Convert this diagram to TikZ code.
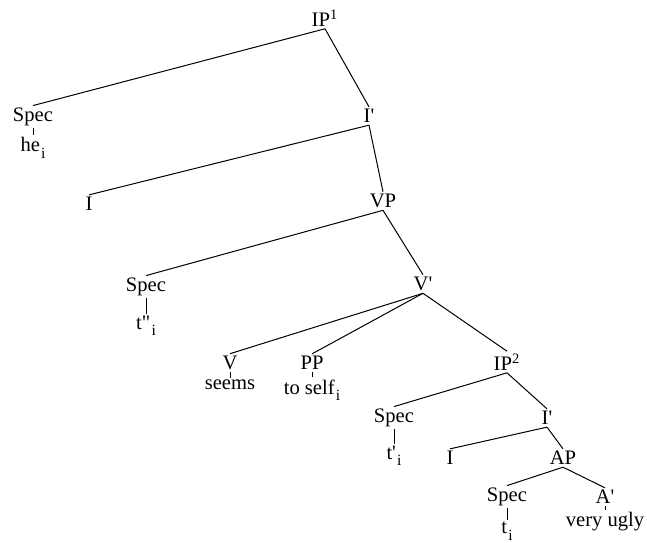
\documentclass[tikz,border=0pt]{standalone}
\usepackage{fontspec}
\setmainfont{Liberation Serif}
\usetikzlibrary{positioning}
\newcommand{\prm}{\textquotesingle}
\newcommand{\dprm}{\textquotedbl}
\newcommand{\idx}[1]{\hspace{0.6pt}\raisebox{-3.2pt}{\fontsize{7.8}{8}\selectfont #1}}
\tikzset{
  cat/.style={inner sep=1pt,font=\fontsize{10.3}{12}\selectfont},
  branch/.style={line width=0.5pt,draw=black}
}
\begin{document}
\begin{tikzpicture}[x=0.5pt,y=-0.5pt]
  \useasboundingbox (0,0) rectangle (647,542);
  \node[cat] (ipone) at (325,18) {IP\textsuperscript{1}};
  \node[cat] (specA) at (33,117) {Spec};
  \node[cat] (heI) at (33,148) {he\idx{i}};
  \node[cat] (ibarA) at (369,116) {I\prm};
  \node[cat] (iA) at (89,204) {I};
  \node[cat] (vp) at (383,201) {VP};
  \node[cat] (specB) at (146,287) {Spec};
  \node[cat] (tpp) at (146,326) {t\dprm\idx{i}};
  \node[cat] (vbar) at (423,284) {V\prm};
  \node[cat] (v) at (230,363) {V};
  \node[cat] (seems) at (230,385) {seems};
  \node[cat] (pp) at (312,363) {PP};
  \node[cat] (toself) at (312,390) {to self\idx{i}};
  \node[cat] (iptwo) at (507,362) {IP\textsuperscript{2}};
  \node[cat] (specC) at (394,418) {Spec};
  \node[cat] (tp) at (394,456) {t\prm\idx{i}};
  \node[cat] (ibarB) at (547,418) {I\prm};
  \node[cat] (iB) at (450,458) {I};
  \node[cat] (ap) at (563,458) {AP};
  \node[cat] (specD) at (507,497) {Spec};
  \node[cat] (ti) at (507,531) {t\idx{i}};
  \node[cat] (abar) at (605,497) {A\prm};
  \node[cat] (veryugly) at (605,522) {very ugly};

  \draw[branch] (ipone.south) -- (specA.north);
  \draw[branch] (ipone.south) -- (ibarA.north);
  \draw[branch] (specA.south) -- (heI.north);
  \draw[branch] (ibarA.south) -- (iA.north);
  \draw[branch] (ibarA.south) -- (vp.north);
  \draw[branch] (vp.south) -- (specB.north);
  \draw[branch] (vp.south) -- (vbar.north);
  \draw[branch] (specB.south) -- (tpp.north);
  \draw[branch] (vbar.south) -- (v.north);
  \draw[branch] (vbar.south) -- (pp.north);
  \draw[branch] (vbar.south) -- (iptwo.north);
  \draw[branch] (v.south) -- (seems.north);
  \draw[branch] (pp.south) -- (toself.north);
  \draw[branch] (iptwo.south) -- (specC.north);
  \draw[branch] (iptwo.south) -- (ibarB.north);
  \draw[branch] (specC.south) -- (tp.north);
  \draw[branch] (ibarB.south) -- (iB.north);
  \draw[branch] (ibarB.south) -- (ap.north);
  \draw[branch] (ap.south) -- (specD.north);
  \draw[branch] (ap.south) -- (abar.north);
  \draw[branch] (specD.south) -- (ti.north);
  \draw[branch] (abar.south) -- (veryugly.north);
\end{tikzpicture}
\end{document}
